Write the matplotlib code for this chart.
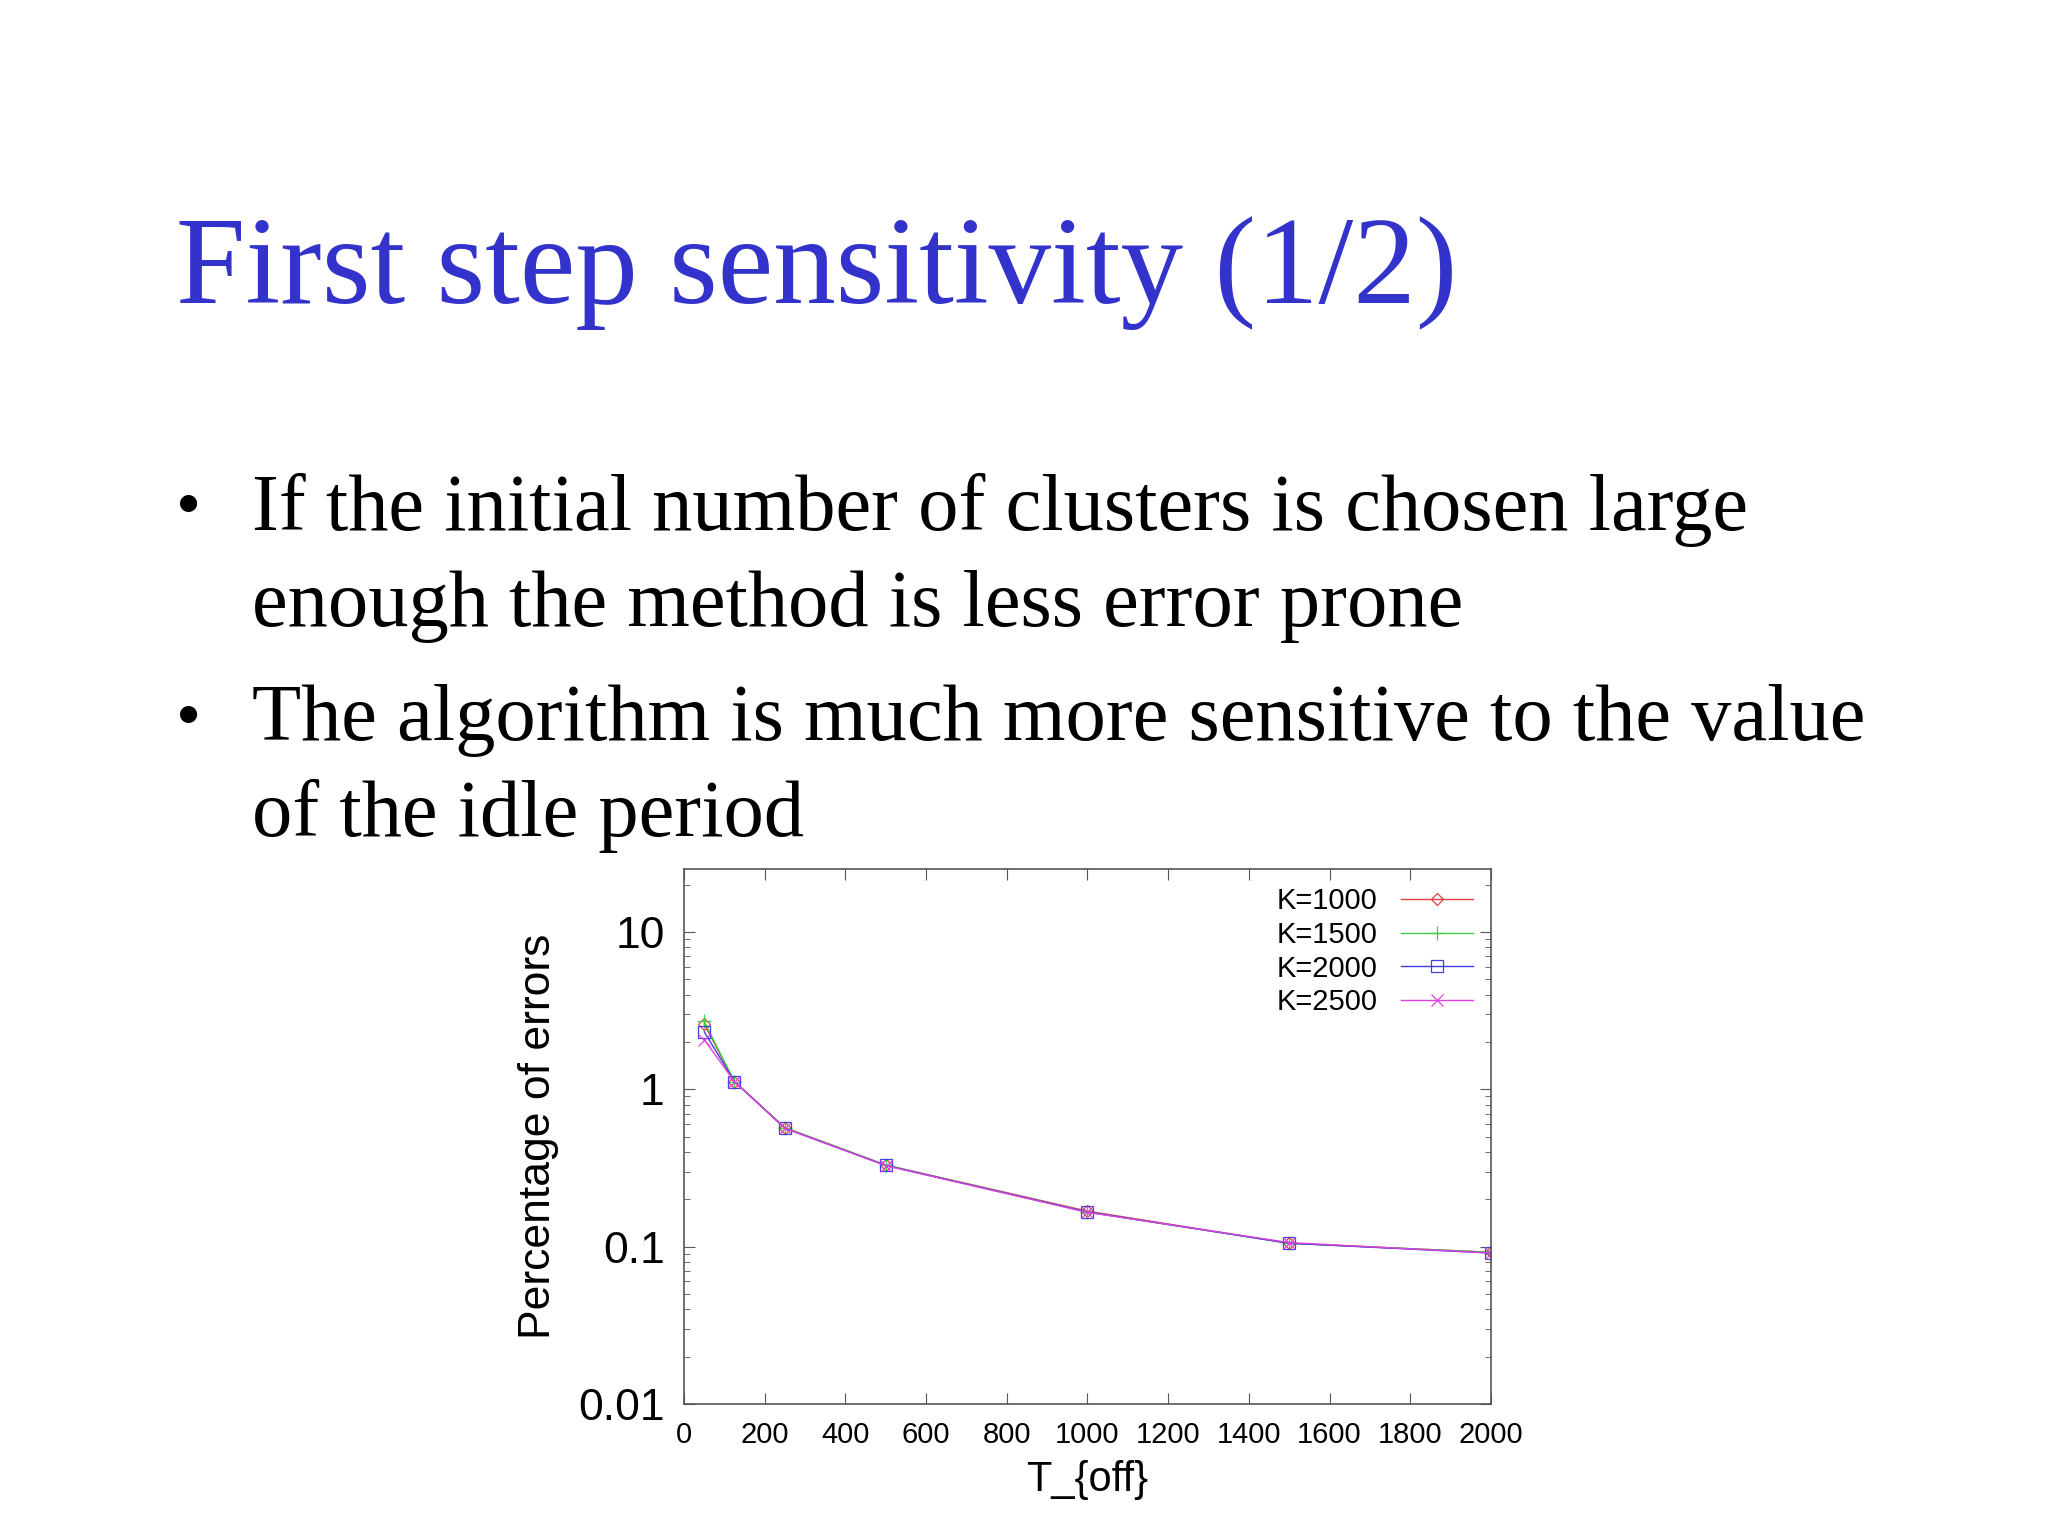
import matplotlib
matplotlib.use("Agg")
import matplotlib.pyplot as plt
from matplotlib.ticker import LogLocator, FixedLocator, NullFormatter

t_off = [50, 125, 250, 500, 1000, 1500, 2000]
k1000 = [2.6, 1.12, 0.57, 0.33, 0.168, 0.105, 0.092]
k1500 = [2.7, 1.12, 0.57, 0.33, 0.166, 0.105, 0.092]
k2000 = [2.32, 1.12, 0.565, 0.328, 0.166, 0.105, 0.091]
k2500 = [2.07, 1.12, 0.565, 0.327, 0.165, 0.106, 0.091]
labels = ["K=1000", "K=1500", "K=2000", "K=2500"]
colors = ["#e04040", "#40d040", "#4040e0", "#e040e0"]
markers = ["D", "+", "s", "x"]
msizes = [6, 10, 9, 9]
x_ticks = list(range(0, 2001, 200))

fig = plt.figure(figsize=(20.48, 15.36), dpi=100)
fig.patch.set_facecolor("white")
fig.text(0.086, 0.822, "First step sensitivity (1/2)", fontfamily="Liberation Serif",
         fontsize=90, color="#3333cc", va="center", ha="left")
bullets = [("If the initial number of clusters is chosen large", "enough the method is less error prone"),
           ("The algorithm is much more sensitive to the value", "of the idle period")]
ys = [(0.668, 0.605), (0.531, 0.469)]
for (l1, l2), (y1, y2) in zip(bullets, ys):
    fig.text(0.092, y1, "\u2022", fontfamily="Liberation Serif", fontsize=52, va="center", ha="center")
    fig.text(0.123, y1, l1, fontfamily="Liberation Serif", fontsize=58, va="center")
    fig.text(0.123, y2, l2, fontfamily="Liberation Serif", fontsize=58, va="center")

ax = fig.add_axes([0.334, 0.086, 0.394, 0.348])
for ys_, lab, c, m, ms in zip([k1000, k1500, k2000, k2500], labels, colors, markers, msizes):
    ax.plot(t_off, ys_, color=c, marker=m, markersize=ms, markerfacecolor="none",
            markeredgecolor=c, linewidth=1.0, markeredgewidth=0.9, label=lab)
ax.set_yscale("log")
ax.set_xlim(0, 2000)
ax.set_ylim(0.01, 25)
ax.set_xticks(x_ticks)
ax.set_xticklabels([str(v) for v in x_ticks], fontfamily="Liberation Sans", fontsize=21)
ax.yaxis.set_major_locator(FixedLocator([0.01, 0.1, 1, 10]))
ax.set_yticklabels(["0.01", "0.1", "1", "10"], fontfamily="Liberation Sans", fontsize=32)
ax.yaxis.set_minor_locator(LogLocator(base=10, subs=range(2, 10)))
ax.yaxis.set_minor_formatter(NullFormatter())
ax.tick_params(which="both", direction="in", top=True, right=True, color="#555555")
ax.tick_params(which="major", length=8, pad=14)
ax.tick_params(which="minor", length=4)
ax.tick_params(axis="x", pad=12)
for s in ax.spines.values():
    s.set_color("#555555")
    s.set_linewidth(1.2)
ax.set_xlabel("T_{off}", fontfamily="Liberation Sans", fontsize=30, labelpad=8)
ax.set_ylabel("Percentage of errors", fontfamily="Liberation Sans", fontsize=32, labelpad=14)
leg = ax.legend(loc="upper right", frameon=False, markerfirst=False,
                prop={"family": "Liberation Sans", "size": 21}, handlelength=2.5,
                labelspacing=0.2, borderaxespad=0.3, borderpad=0.3)
fig.savefig("out.png", dpi=100)
